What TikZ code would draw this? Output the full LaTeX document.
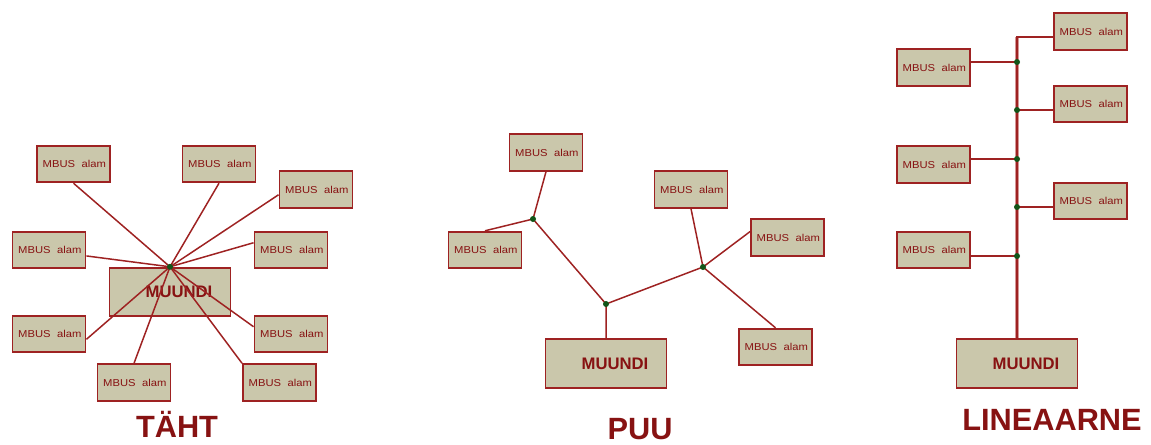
\documentclass[tikz,border=0pt]{standalone}
\usepackage{fontspec}
\setmainfont{Liberation Sans}
\usepackage{graphicx}
\definecolor{wirered}{RGB}{158,34,34}
\definecolor{busred}{RGB}{214,150,150}
\definecolor{boxfill}{RGB}{202,199,171}
\definecolor{labelred}{RGB}{135,18,18}
\definecolor{juncgreen}{RGB}{18,85,25}
\newcommand{\alam}{\fontsize{5.7}{6}\selectfont\scalebox{1.12}[1]{MBUS alam}}

\begin{document}
\begin{tikzpicture}[x=0.02cm,y=-0.02cm,
  slave/.style={draw=wirered,line width=1.1pt,fill=boxfill,text=labelred,minimum height=0.73cm,text width=1.3cm,inner xsep=0.08cm,align=right},
  master/.style={draw=wirered,line width=1.1pt,fill=boxfill,text=labelred,minimum width=2.42cm,minimum height=0.97cm,font=\bfseries\fontsize{9.5}{11}\selectfont},
  link/.style={draw=wirered,line width=0.85pt},
  junc/.style={circle,fill=juncgreen,inner sep=0pt,minimum size=0.12cm},
  title/.style={anchor=base,text=labelred,font=\bfseries\fontsize{17.5}{20}\selectfont}]
\useasboundingbox (0,0) rectangle (1151,444);
% taht
\node [master] (mu1) at (170,292) {\hspace*{0.36cm}MUUNDI};
\node [slave] (s1) at (73.5,164) {\alam};
\node [slave] (s2) at (219,164) {\alam};
\node [slave] (s3) at (316,189.5) {\alam};
\node [slave] (s4) at (49,250) {\alam};
\node [slave] (s5) at (291,250) {\alam};
\node [slave] (s7) at (49,334) {\alam};
\node [slave] (s8) at (291,334) {\alam};
\node [slave] (s9) at (134,382.5) {\alam};
\node [slave] (s10) at (279.5,382.5) {\alam};
\coordinate (hub) at (mu1.north);
\draw [link] (hub) -- (s1.south);
\draw [link] (hub) -- (s2.south);
\draw [link] (hub) -- (s3.188);
\draw [link] (hub) -- (s4.351);
\draw [link] (hub) -- (s5.169);
\draw [link] (hub) -- (s7.352);
\draw [link] (hub) -- (s8.169);
\draw [link] (hub) -- (s9.north);
\draw [link] (hub) -- (s10.north west);
\node [junc] (hubdot) at (hub) {};
\node [title] (t1) at (177,437) {TÄHT};
% puu
\node [master] (mu2) at (606,363.5) {\hspace*{0.36cm}MUUNDI};
\node [slave] (a1) at (546,152.5) {\alam};
\node [slave] (b1) at (485,250) {\alam};
\node [slave] (c1) at (691,189.5) {\alam};
\node [slave] (d1) at (787.5,237.5) {\alam};
\node [slave] (e1) at (775.5,347) {\alam};
\coordinate (j1) at (533,219);
\coordinate (j2) at (606,304);
\coordinate (j3) at (703,267);
\draw [link] (a1.south) -- (j1) -- (b1.north);
\draw [link] (j1) -- (j2) -- (mu2.north);
\draw [link] (j2) -- (j3) -- (c1.south);
\draw [link] (j3) -- (d1.171);
\draw [link] (j3) -- (e1.north);
\foreach \j in {j1,j2,j3}
  \node [junc] (\j dot) at (\j) {};
\node [title] (t2) at (640,439) {PUU};
% lineaarne
\node [master] (mu3) at (1017,363.5) {\hspace*{0.36cm}MUUNDI};
\node [slave] (r1) at (1090.5,31.5) {\alam};
\node [slave] (r2) at (1090.5,104) {\alam};
\node [slave] (r3) at (1090.5,201) {\alam};
\node [slave] (l1) at (933.5,67.5) {\alam};
\node [slave] (l2) at (933.5,164.5) {\alam};
\node [slave] (l3) at (933.5,250) {\alam};
\coordinate (bt) at (1017,37);
\draw [busred,line width=2.2pt] (mu3.north) -- (bt);
\draw [link] (mu3.north) -- (bt) -- (bt -| r1.west);
\foreach \y/\n [count=\i] in {62/l1,159/l2,256/l3} {
  \coordinate (jl\i) at (1017,\y);
  \draw [link] (jl\i) -- (jl\i -| \n.east);
  \node [junc] (jl\i dot) at (jl\i) {};
}
\foreach \y/\n [count=\i] in {110/r2,207/r3} {
  \coordinate (jr\i) at (1017,\y);
  \draw [link] (jr\i) -- (jr\i -| \n.west);
  \node [junc] (jr\i dot) at (jr\i) {};
}
\node [title] (t3) at (1052,430) {LINEAARNE};
\end{tikzpicture}
\end{document}
